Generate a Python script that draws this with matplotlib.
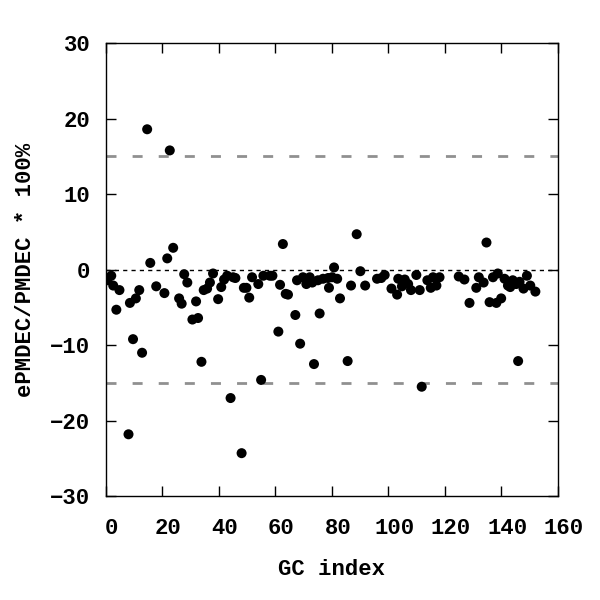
import matplotlib
matplotlib.use("Agg")
import matplotlib.pyplot as plt
import matplotlib.transforms as mtransforms

# GC index and relative PMDEC error (%)
gc_index = [0.6, 2.0, 2.7, 3.8, 4.9, 8.1, 8.6, 9.7, 10.7, 11.9,
            12.9, 14.7, 15.8, 17.9, 20.8, 21.8, 22.7, 23.9, 26.0, 26.9,
            27.8, 28.9, 30.7, 32.0, 32.7, 33.9, 34.7, 35.9, 36.9, 38.0,
            39.8, 40.9, 41.9, 43.0, 44.2, 45.1, 45.9, 48.1, 48.9, 49.8,
            50.8, 51.8, 54.0, 55.0, 55.8, 58.1, 59.0, 61.1, 61.7, 62.7,
            63.7, 64.5, 67.1, 67.7, 68.8, 69.8, 71.0, 72.2, 73.1, 73.7,
            75.1, 75.7, 76.9, 78.7, 79.0, 80.1, 80.8, 81.9, 82.9, 85.6,
            86.8, 88.8, 90.1, 91.8, 96.0, 97.5, 98.7, 101.1, 103.1, 103.5,
            104.8, 105.8, 107.0, 108.0, 109.9, 111.1, 111.8, 113.8, 115.0, 115.8,
            117.0, 118.1, 124.9, 126.9, 128.7, 131.1, 132.0, 133.7, 134.7, 135.8,
            137.0, 138.2, 138.7, 139.9, 141.1, 142.3, 143.1, 144.0, 145.2, 145.9,
            146.4, 147.8, 149.0, 150.2, 152.0]
err_pct = [-1.4, -0.8, -2.1, -5.3, -2.7, -21.8, -4.4, -9.2, -3.8, -2.7,
           -11.0, 18.6, 0.9, -2.2, -3.1, 1.5, 15.8, 2.9, -3.8, -4.5,
           -0.6, -1.7, -6.6, -4.2, -6.4, -12.2, -2.7, -2.5, -1.7, -0.5,
           -3.9, -2.3, -1.3, -0.8, -17.0, -1.0, -1.1, -24.3, -2.4, -2.4,
           -3.7, -1.0, -1.9, -14.6, -0.8, -0.8, -0.8, -8.2, -2.0, 3.4,
           -3.2, -3.3, -6.0, -1.4, -9.8, -1.0, -1.9, -1.0, -1.7, -12.5,
           -1.4, -5.8, -1.2, -1.1, -2.4, -1.0, 0.3, -1.2, -3.8, -12.1,
           -2.1, 4.7, -0.2, -2.1, -1.2, -1.1, -0.7, -2.5, -3.3, -1.2,
           -2.2, -1.3, -1.9, -2.7, -0.7, -2.7, -15.5, -1.4, -2.4, -1.0,
           -2.1, -1.0, -0.9, -1.3, -4.4, -2.4, -1.0, -1.7, 3.6, -4.3,
           -1.0, -4.4, -0.5, -3.8, -1.2, -2.1, -2.3, -1.4, -1.9, -12.1,
           -1.6, -2.5, -0.8, -2.1, -2.9]

limit = 15
xticks = list(range(0, 161, 20))
yticks = list(range(-30, 31, 10))

plt.rcParams['font.family'] = ['Liberation Mono', 'DejaVu Sans Mono']
plt.rcParams['font.weight'] = 'bold'

fig = plt.figure(figsize=(6, 6), dpi=100)
ax = fig.add_axes([0.176, 0.173, 0.754, 0.755])

ax.axhline(0, color='black', lw=1.0, linestyle=(0, (3, 3)), zorder=1)
ax.axhline(limit, color='#909090', lw=2.0, linestyle=(0, (3.6, 5.8)), zorder=1)
ax.axhline(-limit, color='#909090', lw=2.0, linestyle=(0, (3.6, 5.8)), zorder=1)

ax.scatter(gc_index, err_pct, s=52, color='black', edgecolors='none', zorder=3)

ax.set_xlim(0, 160)
ax.set_ylim(-30, 30)
ax.set_xticks(xticks)
ax.set_yticks(yticks)
ax.tick_params(direction='in', length=7, width=1, top=True, right=True,
               labelsize=16)
ax.tick_params(axis='x', pad=16)
ax.tick_params(axis='y', pad=11)
for sp in ax.spines.values():
    sp.set_linewidth(1.0)

# labels sit a little right of their ticks in the original
shift = mtransforms.ScaledTranslation(0.06, 0, fig.dpi_scale_trans)
for lab in ax.get_xticklabels():
    lab.set_transform(lab.get_transform() + shift)

ax.set_xlabel("GC index", fontsize=16, fontweight='bold', labelpad=14)
ax.set_ylabel("ePMDEC/PMDEC * 100%", fontsize=16, fontweight='bold', labelpad=10)

fig.savefig("out.png", dpi=100)
